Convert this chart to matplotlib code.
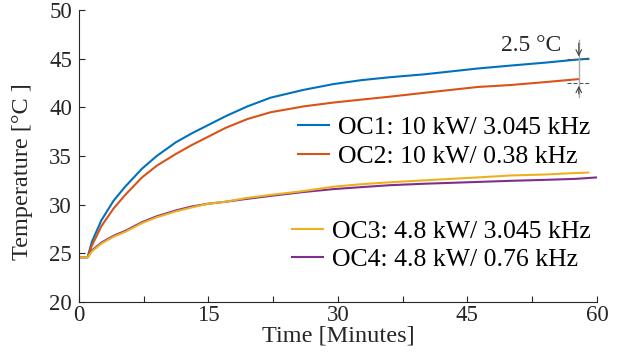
import numpy as np
import matplotlib
matplotlib.use('Agg')
import matplotlib.pyplot as plt

plt.rcParams['font.family'] = ['Liberation Serif', 'DejaVu Serif']

# values (minutes, deg C)
t1 = [0, 1.0, 1.5, 2.6, 4, 5.35, 7.3, 9, 11.2, 13, 15, 17, 19.5, 22.2, 26, 29.5, 32.7, 36, 40, 46.2, 50, 54, 57.5, 59]
oc1 = [24.6, 24.6, 26.2, 28.4, 30.4, 31.85, 33.7, 35.0, 36.4, 37.3, 38.2, 39.1, 40.1, 41.0, 41.8, 42.4, 42.8, 43.1, 43.4, 44.0, 44.3, 44.6, 44.9, 45.0]
t2 = [0, 1.0, 1.5, 2.6, 4, 5.35, 7.3, 9, 11.2, 13, 15, 17, 19.5, 22.2, 26, 29.5, 32.7, 36, 40, 46.2, 50, 54, 57.8]
oc2 = [24.6, 24.6, 25.8, 27.8, 29.6, 31.0, 32.8, 34.0, 35.2, 36.1, 37.0, 37.9, 38.8, 39.5, 40.1, 40.5, 40.8, 41.1, 41.5, 42.1, 42.3, 42.6, 42.9]
t3 = [0, 1.0, 1.5, 2.6, 4, 5.35, 7.3, 9, 11.2, 13, 15, 17, 19.5, 22.2, 26, 29.5, 32.7, 36, 40, 46.2, 50, 54, 57.5, 59]
oc3 = [24.6, 24.6, 25.2, 26.0, 26.7, 27.2, 28.1, 28.7, 29.3, 29.7, 30.1, 30.3, 30.7, 31.0, 31.4, 31.85, 32.1, 32.3, 32.5, 32.8, 33.0, 33.1, 33.25, 33.3]
t4 = [0, 1.0, 1.5, 2.6, 4, 5.35, 7.3, 9, 11.2, 13, 15, 17, 19.5, 22.2, 26, 29.5, 32.7, 36, 40, 45, 50, 54, 57.5, 60]
oc4 = [24.6, 24.6, 25.3, 26.1, 26.8, 27.3, 28.2, 28.8, 29.4, 29.8, 30.1, 30.3, 30.6, 30.9, 31.3, 31.6, 31.8, 32.0, 32.15, 32.3, 32.45, 32.55, 32.65, 32.8]

labels = ['OC1: 10 kW/ 3.045 kHz', 'OC2: 10 kW/ 0.38 kHz',
          'OC3: 4.8 kW/ 3.045 kHz', 'OC4: 4.8 kW/ 0.76 kHz']
colors = ['#0072BD', '#D95319', '#EDB120', '#7E2F8E']

fig = plt.figure(figsize=(6.27, 3.62), dpi=100)
ax = fig.add_axes([0.126, 0.166, 0.826, 0.806])

l1, = ax.plot(t1, oc1, color=colors[0], lw=1.5)
l2, = ax.plot(t2, oc2, color=colors[1], lw=1.5)
l4, = ax.plot(t4, oc4, color=colors[3], lw=1.5)
l3, = ax.plot(t3, oc3, color=colors[2], lw=1.5)

ax.set_xlim(0, 60)
ax.set_ylim(20, 50)
ax.set_xticks([0, 15, 30, 45, 60])
ax.set_xticks(np.arange(0, 60, 7.5), minor=True)
ax.set_yticks(np.arange(20, 51, 5))
ax.tick_params(direction='in', labelsize=16.5, length=4, width=0.8, colors='#262626')
ax.tick_params(axis='x', pad=2)
ax.tick_params(axis='y', pad=5)
ax.tick_params(which='minor', direction='in', length=4, width=0.8, colors='#262626')
ax.spines['top'].set_visible(False)
ax.spines['right'].set_visible(False)
for s in ['left', 'bottom']:
    ax.spines[s].set_color('#262626')
ax.set_xlabel('Time [Minutes]', fontsize=17.5, labelpad=0, color='#262626')
ax.set_ylabel('Temperature [°C ]', fontsize=17.5, color='#262626')
ax.yaxis.set_label_coords(-0.088, 0.445)

kw = dict(frameon=False, fontsize=18.5, handlelength=1.2, handletextpad=0.35,
          borderaxespad=0, borderpad=0, labelspacing=0.2, loc='center left')
leg1 = ax.legend([l1, l2], labels[:2], bbox_to_anchor=(0.423, 0.548), **kw)
ax.add_artist(leg1)
ax.legend([l3, l4], labels[2:], bbox_to_anchor=(0.411, 0.192), **kw)

# 2.5 degC annotation
xa = 57.9
ax.plot([56.5, 59.2], [44.95, 44.95], ls='--', color='#555555', lw=0.8)
ax.plot([56.5, 59.2], [42.5, 42.5], ls='--', color='#555555', lw=0.8)
ax.plot([xa, xa], [41.1, 46.9], color='#aaaaaa', lw=1.0)
ax.annotate('', xy=(xa, 44.95), xytext=(xa, 46.9),
            arrowprops=dict(arrowstyle='->', color='#444444', lw=0.8))
ax.annotate('', xy=(xa, 42.5), xytext=(xa, 41.1),
            arrowprops=dict(arrowstyle='->', color='#444444', lw=0.8))
ax.text(52.4, 46.4, '2.5 °C', fontsize=17, ha='center', va='center', color='#262626')

fig.savefig('out.png', dpi=100)
